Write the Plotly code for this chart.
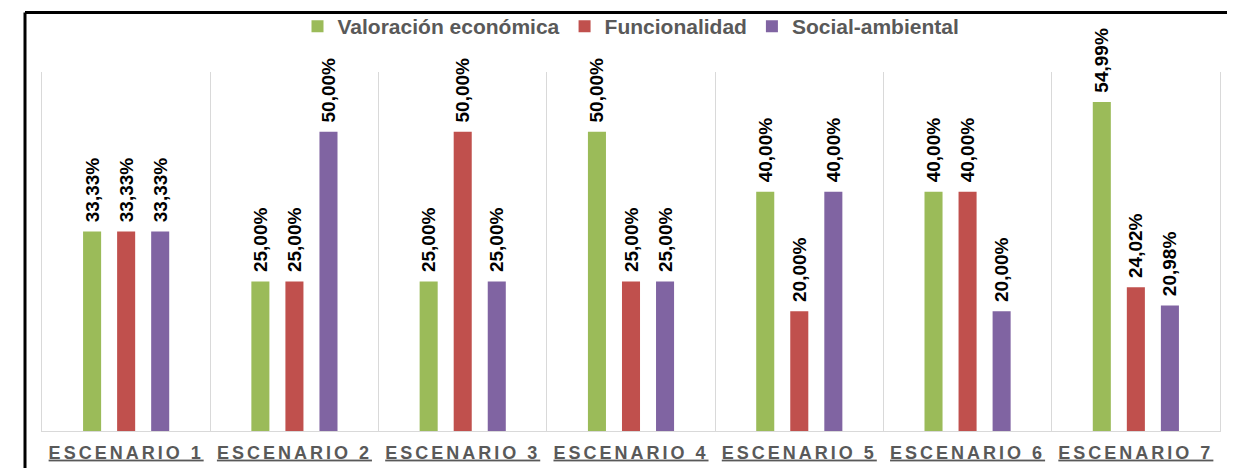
import plotly.graph_objects as go

categories = ["ESCENARIO 1", "ESCENARIO 2", "ESCENARIO 3", "ESCENARIO 4",
              "ESCENARIO 5", "ESCENARIO 6", "ESCENARIO 7"]
valoracion = [33.33, 25.00, 25.00, 50.00, 40.00, 40.00, 54.99]
funcionalidad = [33.33, 25.00, 50.00, 25.00, 20.00, 40.00, 24.02]
social = [33.33, 50.00, 25.00, 25.00, 40.00, 20.00, 20.98]

series = [
    ("Valoración económica", valoracion, "#9BBB59"),
    ("Funcionalidad", funcionalidad, "#C0504D"),
    ("Social-ambiental", social, "#8064A2"),
]

FONT = "Arial, 'Liberation Sans', sans-serif"
# invisible padding between bar top and label (text reads bottom-to-top)
GAP = '<span style="fill-opacity:0">-</span>'

fig = go.Figure()
for name, vals, color in series:
    fig.add_trace(go.Bar(
        x=categories, y=vals, name=name,
        marker=dict(color=color, line=dict(width=0)),
        texttemplate=GAP + "%{y:.2f}%",
        textposition="outside",
        textangle=-90,
        constraintext="none",
        textfont=dict(family=FONT, size=19, color="#000000", weight="bold"),
        cliponaxis=False,
    ))

# page has an 8px body margin: figure origin sits at page (8, 8)
OFF = 8
W, H = 1235 - OFF, 468 - OFF
ml, mr, mt, mb = 42 - OFF, 15, 72 - OFF, 37
pw, ph = W - ml - mr, H - mt - mb

def px_x(x):
    return (x - OFF - ml) / pw

def px_y(y):
    return (H - mb - (y - OFF)) / ph

ticktext = ['<b><span style="letter-spacing:3px">%s</span></b>' % c for c in categories]

fig.update_layout(
    width=W, height=H,
    margin=dict(l=ml, r=mr, t=mt, b=mb, autoexpand=False),
    paper_bgcolor="white", plot_bgcolor="white",
    separators=",.",
    barmode="group",
    bargap=0.393, bargroupgap=0.47,
    font=dict(family=FONT, color="#595959"),
    legend=dict(
        orientation="h", x=0.5, xanchor="center",
        y=px_y(6), yanchor="top",
        font=dict(family=FONT, size=21, color="#595959", weight="bold"),
        itemclick=False,
        bgcolor="rgba(0,0,0,0)",
    ),
    xaxis=dict(
        type="category",
        tickson="boundaries",
        showgrid=True, gridcolor="#D9D9D9", gridwidth=1,
        showline=True, linecolor="#D9D9D9", linewidth=1,
        ticks="", ticklabelstandoff=5,
        tickvals=categories, ticktext=ticktext,
        tickfont=dict(family=FONT, size=18, color="#595959", weight="bold",
                      lineposition="under"),
        automargin=False,
    ),
    yaxis=dict(
        range=[0, 60],
        showticklabels=False, showgrid=False, zeroline=False,
        showline=True, mirror=True, linecolor="#D9D9D9", linewidth=1,
        ticks="",
    ),
    shapes=[
        dict(type="line", xref="paper", yref="paper",
             x0=px_x(25), x1=px_x(1240), y0=px_y(12.5), y1=px_y(12.5),
             line=dict(color="#000000", width=3)),
        dict(type="line", xref="paper", yref="paper",
             x0=px_x(25), x1=px_x(25), y0=px_y(12.5), y1=px_y(475),
             line=dict(color="#000000", width=3)),
    ],
)

fig.write_html("out.html")
